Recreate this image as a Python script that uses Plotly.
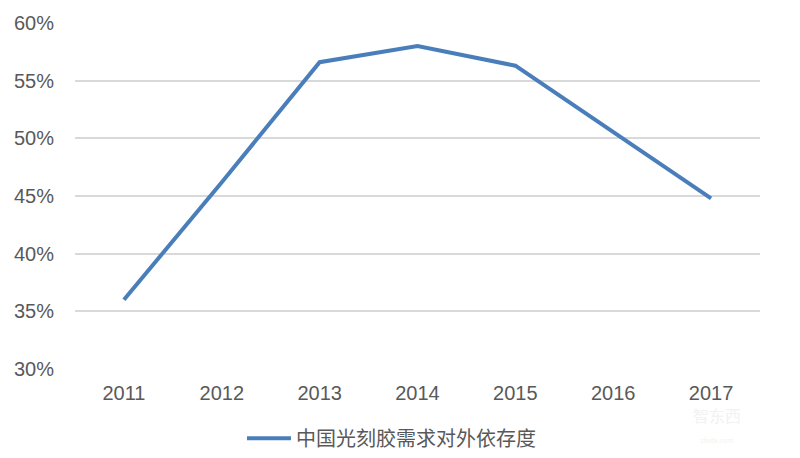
import plotly.graph_objects as go

years = ["2011", "2012", "2013", "2014", "2015", "2016", "2017"]
dependence = [36.0, 46.2, 56.6, 58.0, 56.3, 50.6, 44.8]
series_name = "中国光刻胶需求对外依存度"
y_ticks = [30, 35, 40, 45, 50, 55, 60]
y_tick_labels = ["30%", "35%", "40%", "45%", "50%", "55%", "60%"]

fig = go.Figure()
fig.add_trace(go.Scatter(
    x=years, y=dependence, mode="lines", name=series_name,
    line=dict(color="#4a7ebb", width=4),
))

fig.update_layout(
    width=792, height=450,
    margin=dict(l=67, r=40, t=15, b=89, autoexpand=False),
    paper_bgcolor="white", plot_bgcolor="white",
    showlegend=True,
    legend=dict(orientation="h", x=0.462, xanchor="center", y=-0.2, yanchor="middle",
                font=dict(family="Noto Sans CJK SC", size=20, color="#595959"),
                itemwidth=44),
    xaxis=dict(type="category", range=[-0.5, 6.5], showgrid=False, showline=False, ticks="",
               tickfont=dict(family="Liberation Sans, Arial", size=20, color="#595959"),
               ticklabelstandoff=10),
    yaxis=dict(range=[30, 60], tickmode="array", tickvals=y_ticks, ticktext=y_tick_labels,
               showgrid=True, gridcolor="#d9d9d9", gridwidth=2, zeroline=False,
               tickfont=dict(family="Liberation Sans, Arial", size=20, color="#595959"),
               ticklabelstandoff=20),
)

fig.add_annotation(text="智东西<br><span style='font-size:7px'>zhidx.com</span>", xref="paper", yref="paper",
                   x=0.975, y=-0.158, yanchor="middle", showarrow=False,
                   font=dict(family="Noto Sans CJK SC", size=16, color="#f2f2f2"))

fig.write_html("out.html")
